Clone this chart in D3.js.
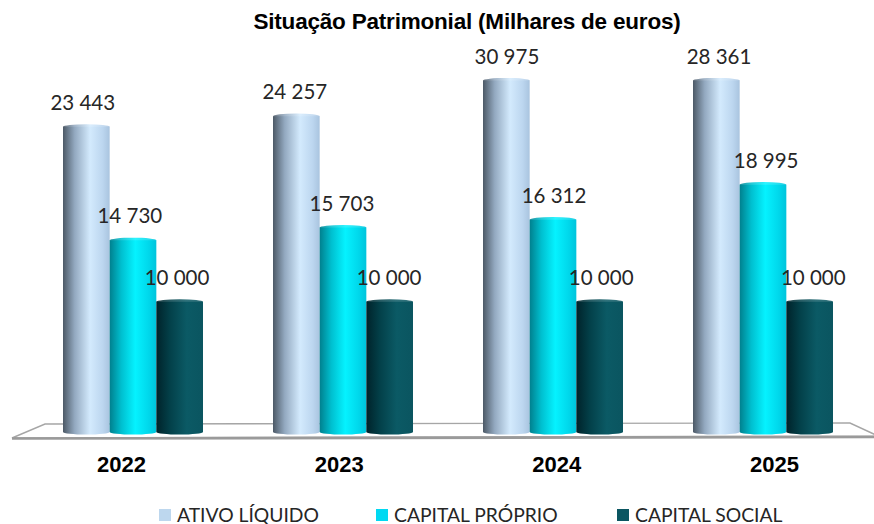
<!DOCTYPE html>
<html>
<head>
<meta charset="utf-8">
<script src="https://cdn.jsdelivr.net/npm/d3@7"></script>
<style>
  body { margin: 0; background: #fff; }
  svg { display: block; }
</style>
</head>
<body>
<div id="chart"></div>
<script>
const years = ["2022", "2023", "2024", "2025"];
const seriesNames = ["ATIVO LÍQUIDO", "CAPITAL PRÓPRIO", "CAPITAL SOCIAL"];
const ativoLiquido = [23443, 24257, 30975, 28361];
const capitalProprio = [14730, 15703, 16312, 18995];
const capitalSocial = [10000, 10000, 10000, 10000];
const axisMax = 27000;

const width = 874, height = 524;
const colors = ["#bdd7ee", "#00d9f2", "#0b5661"];
const gradStops = [
  [["0%", "#4c5966"], ["25%", "#93a9c0"], ["58%", "#d3eafd"], ["85%", "#bcd6ef"], ["100%", "#a9c4df"]],
  [["0%", "#00808e"], ["25%", "#00bfcf"], ["55%", "#05f2ff"], ["85%", "#00d6ea"], ["100%", "#00c4dc"]],
  [["0%", "#00232a"], ["30%", "#03414a"], ["65%", "#0b5a65"], ["100%", "#0a5560"]]
];

const table = years.map((y, i) => ({
  year: y,
  values: [ativoLiquido[i], capitalProprio[i], capitalSocial[i]]
}));

const fmt = v => d3.format(",")(v).replace(/,/g, "\u00a0");

const svg = d3.select("#chart").append("svg")
  .attr("width", width)
  .attr("height", height)
  .attr("viewBox", `0 0 ${width} ${height}`);

const defs = svg.append("defs");
gradStops.forEach((stops, i) => {
  const g = defs.append("linearGradient").attr("id", "cyl" + i)
    .attr("x1", "0%").attr("x2", "100%").attr("y1", "0%").attr("y2", "0%");
  stops.forEach(s => g.append("stop").attr("offset", s[0]).attr("stop-color", s[1]));
});

const x0 = d3.scaleBand().domain(years).range([28, 868]).paddingInner(1 / 3).paddingOuter(1 / 6);
const x1 = d3.scaleBand().domain(d3.range(seriesNames.length)).range([0, x0.bandwidth()]);
const y = d3.scaleLinear().domain([0, axisMax]).range([432, 80.5]).clamp(true);

// perspective spread around the view centre
const vc = 448;
const spread = (cx, k) => cx + (cx - vc) * k;

// floor
const floor = svg.append("g").attr("class", "floor");
floor.append("path")
  .attr("d", "M45,424 L850,423 L878,436 L12,438 Z")
  .attr("fill", "#ffffff")
  .attr("stroke", "#a6a6a6")
  .attr("stroke-width", 1.4);
floor.append("line")
  .attr("x1", 12).attr("y1", 438.5).attr("x2", 878).attr("y2", 437)
  .attr("stroke", "#9a9a9a").attr("stroke-width", 2.6);

// title
svg.append("text")
  .attr("x", 467).attr("y", 29)
  .attr("text-anchor", "middle")
  .attr("font-family", "Liberation Sans, Arial, sans-serif")
  .attr("font-weight", "bold")
  .attr("font-size", 22.5)
  .attr("letter-spacing", -0.2)
  .attr("fill", "#000")
  .text("Situação Patrimonial (Milhares de euros)");

// bars
const groups = svg.append("g").selectAll("g")
  .data(table).join("g")
  .attr("transform", d => `translate(${x0(d.year)},0)`);

const bars = groups.selectAll("g")
  .data(d => d.values.map((v, i) => ({ v, i, gx: x0(d.year) })))
  .join("g");

const w = x1.bandwidth();
const ry = 2.6;

bars.append("path")
  .attr("d", d => {
    const l = x1(d.i), r = l + w, top = y(d.v), bot = y(0);
    return `M${l},${top} L${l},${bot} A${w / 2},${ry} 0 0 0 ${r},${bot} L${r},${top} Z`;
  })
  .attr("fill", d => `url(#cyl${d.i})`);

bars.append("ellipse")
  .attr("cx", d => x1(d.i) + w / 2)
  .attr("cy", d => y(d.v))
  .attr("rx", w / 2)
  .attr("ry", ry)
  .attr("fill", d => `url(#cyl${d.i})`)
  .attr("opacity", 0.85);

bars.append("text")
  .attr("x", d => spread(d.gx + x1(d.i) + w / 2, 0.01) - d.gx)
  .attr("y", d => y(d.v) - 17)
  .attr("text-anchor", "middle")
  .attr("font-family", "Lato, Open Sans, sans-serif")
  .attr("font-size", 20.5)
  .attr("fill", "#262626")
  .text(d => fmt(d.v));

// category labels
svg.append("g").selectAll("text")
  .data(years).join("text")
  .attr("x", d => spread(x0(d) + x0.bandwidth() / 2, 0.0365))
  .attr("y", 472)
  .attr("text-anchor", "middle")
  .attr("font-family", "Liberation Sans, Arial, sans-serif")
  .attr("font-weight", "bold")
  .attr("font-size", 22)
  .attr("fill", "#000")
  .text(d => d);

// legend
const legendX = [159, 376, 617];
const legend = svg.append("g").selectAll("g")
  .data(seriesNames).join("g")
  .attr("transform", (d, i) => `translate(${legendX[i]},509)`);
legend.append("rect")
  .attr("width", 12).attr("height", 12)
  .attr("fill", (d, i) => colors[i]);
legend.append("text")
  .attr("x", 18).attr("y", 12.5)
  .attr("font-family", "Lato, Open Sans, sans-serif")
  .attr("font-size", 19.3)
  .attr("fill", "#262626")
  .text(d => d);
</script>
</body>
</html>
